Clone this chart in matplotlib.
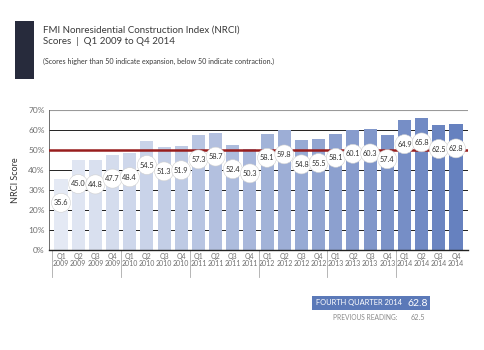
import numpy as np
import matplotlib
matplotlib.use("Agg")
import matplotlib.pyplot as plt
from matplotlib.colors import LinearSegmentedColormap
import matplotlib.transforms as mtransforms

# quarterly NRCI scores, Q1 2009 .. Q4 2014
quarters = ["Q1", "Q2", "Q3", "Q4"]
years = ["2009", "2010", "2011", "2012", "2013", "2014"]
scores = [35.6, 45.0, 44.8, 47.7,
          48.4, 54.5, 51.3, 51.9,
          57.3, 58.7, 52.4, 50.3,
          58.1, 59.8, 54.8, 55.5,
          58.1, 60.1, 60.3, 57.4,
          64.9, 65.8, 62.5, 62.8]
threshold = 50
current_label = "FOURTH QUARTER 2014"
current_value = "62.8"
previous_value = "62.5"

font = "Lato"
grey = "#6e6e6e"

fig = plt.figure(figsize=(4.85, 3.5), dpi=100)
ax = fig.add_axes([49 / 485, 100 / 350, 419 / 485, 140 / 350])

n = len(scores)
x = np.arange(n)
cmap = LinearSegmentedColormap.from_list("nrci", ["#e4e9f4", "#6681bf"])
colors = [cmap(i / (n - 1)) for i in range(n)]

for y in range(10, 70, 10):
    ax.axhline(y, color="#222222", lw=0.7, zorder=1)
ax.axhline(70, color="#9a9a9a", lw=0.8, zorder=1)
ax.bar(x, scores, width=0.76, color=colors, zorder=2)
ax.axhline(threshold, color="#981d1d", lw=1.8, zorder=4)

# value bubbles
for xi, v in zip(x, scores):
    ax.text(xi, v - 12, f"{v:.1f}", ha="center", va="center", fontsize=5.3,
            family=font, color="#333333", zorder=5,
            bbox=dict(boxstyle="circle,pad=0.3", fc="white", ec="#d0d0d0", lw=0.4))

ax.set_xlim(-0.7, n - 0.3)
ax.set_ylim(0, 70)
ax.set_yticks(range(0, 80, 10))
ax.set_yticklabels([f"{t}%" for t in range(0, 80, 10)], family=font,
                   fontsize=6, color=grey)
ax.set_xticks(x)
ax.set_xticklabels([f"{q}\n{yr}" for yr in years for q in quarters],
                   family=font, fontsize=5, color=grey, linespacing=1.0)
ax.tick_params(axis="both", length=0, pad=3)
ax.tick_params(axis="x", pad=2)
for s in ["top", "right"]:
    ax.spines[s].set_visible(False)
ax.spines["left"].set_color("#555555")
ax.spines["left"].set_linewidth(0.6)
ax.spines["bottom"].set_color("#222222")
ax.spines["bottom"].set_linewidth(1.0)
ax.set_ylabel("NRCI Score", family=font, fontsize=6.5, color="#333333", labelpad=6)

# year separators under the axis
trans = mtransforms.blended_transform_factory(ax.transData, ax.transAxes)
for k in range(len(years)):
    xs = k * 4 - 0.5
    ax.plot([xs, xs], [0, -0.19], transform=trans, color="#aaaaaa",
            lw=0.6, clip_on=False)

# heading
fig.patches.append(plt.Rectangle((15 / 485, 1 - 79 / 350), 19 / 485, 58 / 350,
                                 transform=fig.transFigure, fc="#272b3c",
                                 ec="none", lw=0))
fig.text(43 / 485, 1 - 30 / 350, "FMI Nonresidential Construction Index (NRCI)",
         family=font, fontsize=7, color="#3a3a3a", va="center")
fig.text(43 / 485, 1 - 42 / 350, "Scores  |  Q1 2009 to Q4 2014",
         family=font, fontsize=7, color="#3a3a3a", va="center")
fig.text(43 / 485, 1 - 61 / 350,
         "(Scores higher than 50 indicate expansion, below 50 indicate contraction.)",
         family=font, fontsize=5.1, color="#3a3a3a", va="center")

# current reading box
fig.patches.append(plt.Rectangle((312 / 485, 1 - 310 / 350), 118 / 485, 14 / 350,
                                 transform=fig.transFigure, fc="#5b79b8",
                                 ec="none", lw=0))
fig.text(316 / 485, 1 - 303 / 350, current_label, family=font, fontsize=5.4,
         color="white", va="center")
fig.text(428 / 485, 1 - 303 / 350, current_value, family=font, fontsize=7.5,
         color="white", va="center", ha="right")
fig.text(333 / 485, 1 - 318 / 350, "PREVIOUS READING:", family=font, fontsize=4.8,
         color="#8a8a8a", va="center")
fig.text(425 / 485, 1 - 318 / 350, previous_value, family=font, fontsize=5.3,
         color="#8a8a8a", va="center", ha="right")

fig.savefig("out.png", dpi=100, facecolor="white")
